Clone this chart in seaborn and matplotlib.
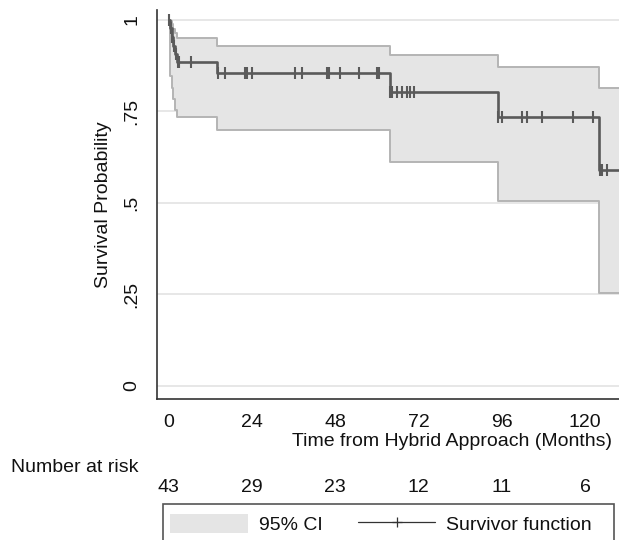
import numpy as np
import pandas as pd
import seaborn as sns
import matplotlib.pyplot as plt
from matplotlib.patches import Rectangle, Patch
from matplotlib.lines import Line2D
from matplotlib.transforms import blended_transform_factory

# Kaplan-Meier steps (months)
event_times = [0.0, 0.4, 0.9, 1.4, 1.8, 2.3, 13.9, 63.9, 95.0, 124.1, 130.0]
survival = [1.0, 0.977, 0.953, 0.930, 0.907, 0.884, 0.855, 0.804, 0.736, 0.590, 0.590]
ci_lower = [1.0, 0.846, 0.815, 0.785, 0.755, 0.736, 0.699, 0.613, 0.506, 0.253, 0.253]
ci_upper = [1.0, 0.997, 0.988, 0.976, 0.963, 0.950, 0.930, 0.904, 0.871, 0.813, 0.813]

censor_times = [0.1, 0.6, 1.1, 1.6, 2.0, 2.6, 3.0, 6.6,
                14.1, 16.3, 22.1, 22.6, 24.0, 36.5, 38.4, 45.6, 46.1, 49.5,
                54.8, 60.1, 60.6, 63.9, 64.3, 65.8, 67.2, 68.7, 69.6, 70.6,
                95.0, 96.0, 101.8, 103.2, 107.5, 116.6, 122.4,
                124.2, 124.8, 126.3]

risk_times = [0, 24, 48, 72, 96, 120]
at_risk = [43, 29, 23, 12, 11, 6]

km = pd.DataFrame({'time': event_times, 'surv': survival,
                   'lo': ci_lower, 'hi': ci_upper})
idx = np.searchsorted(km['time'].values, censor_times, side='right') - 1
cens = pd.DataFrame({'time': censor_times, 'surv': km['surv'].values[idx]})

sns.set_style('white')
plt.rcParams['font.family'] = ['Liberation Sans', 'DejaVu Sans']
plt.rcParams['font.size'] = 14
plt.rcParams['text.color'] = '#111111'
plt.rcParams['axes.labelcolor'] = '#111111'
plt.rcParams['xtick.labelcolor'] = '#111111'
plt.rcParams['ytick.labelcolor'] = '#111111'

fig = plt.figure(figsize=(6.19, 5.40), dpi=100)
ax = fig.add_axes([157 / 619, 1 - 399 / 540, 1 - 157 / 619, (399 - 10) / 540])

line_col = '#5a5a5a'
band_col = '#e5e5e5'
edge_col = '#b4b4b4'

for yv in [0, 0.25, 0.5, 0.75, 1]:
    ax.axhline(yv, color='#e3e3e3', lw=1.2, zorder=0)

ax.fill_between(km['time'], km['lo'], km['hi'], step='post',
                facecolor=band_col, edgecolor='none', zorder=1)
ax.step(km['time'], km['lo'], where='post', color=edge_col, lw=1.4, zorder=2)
ax.step(km['time'], km['hi'], where='post', color=edge_col, lw=1.4, zorder=2)

sns.lineplot(data=km, x='time', y='surv', drawstyle='steps-post',
             color=line_col, lw=1.9, ax=ax, zorder=3)
ax.plot(cens['time'], cens['surv'], ls='none', marker='|', ms=9, mew=1.5,
        color=line_col, zorder=4)

ax.set_xlim(-3.34, 129.8)
ax.set_ylim(-0.0355, 1.027)
ax.set_xticks(risk_times)
ax.set_yticks([0, 0.25, 0.5, 0.75, 1])
ax.set_yticklabels(['0', '.25', '.5', '.75', '1'], rotation=90, va='center')
ax.tick_params(axis='both', length=7, width=1, color='#333333', labelsize=14)
ax.tick_params(axis='y', pad=5)
ax.tick_params(axis='x', pad=4)
for s in ['top', 'right']:
    ax.spines[s].set_visible(False)
for s in ['left', 'bottom']:
    ax.spines[s].set_color('#333333')
    ax.spines[s].set_linewidth(1.2)

ax.set_ylabel('Survival Probability', fontsize=14)
ax.yaxis.set_label_coords(-0.098, 0.5)
ax.set_xlabel('Time from Hybrid Approach (Months)', fontsize=14)
ax.xaxis.set_label_coords((452 - 157) / 462, -(442 - 399) / 389)
ax.xaxis.label.set_va('center')

fig.text(75 / 619, 1 - 467 / 540, 'Number at risk', ha='center', va='center',
         fontsize=14)
tr = blended_transform_factory(ax.transData, fig.transFigure)
for t, n in zip(risk_times, at_risk):
    ax.text(t, 1 - 488 / 540, str(n), transform=tr, ha='center', va='center',
            fontsize=14, clip_on=False)

fig.patches.append(Rectangle((163 / 619, -0.05), (614 - 163) / 619,
                             0.05 + 1 - 504 / 540, transform=fig.transFigure,
                             facecolor='white', edgecolor='#555555', lw=1.2))
handles = [Patch(facecolor=band_col, edgecolor='none', label='95% CI'),
           Line2D([], [], color='#333333', lw=0.9, marker='+', ms=7, mew=0.9,
                  label='Survivor function')]
fig.legend(handles=handles, loc='center left', ncol=2, frameon=False,
           bbox_to_anchor=(170 / 619, 1 - 524 / 540), fontsize=14,
           handlelength=4.0, handleheight=1.1, handletextpad=0.57,
           columnspacing=1.8, borderaxespad=0, borderpad=0)

fig.savefig('out.png', dpi=100)
